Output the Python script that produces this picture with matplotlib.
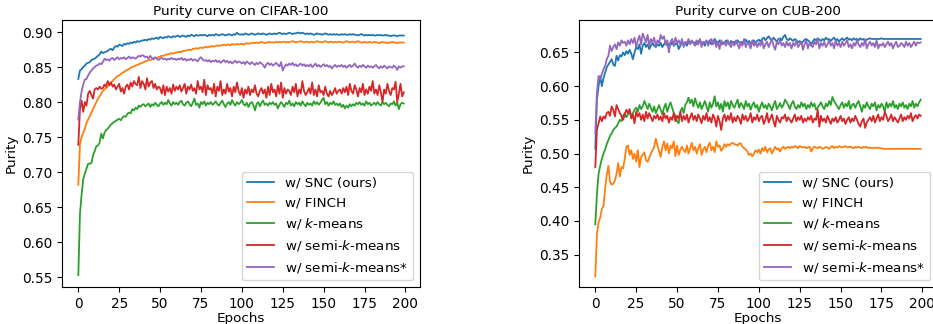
import numpy as np
import matplotlib
matplotlib.use('Agg')
import matplotlib.pyplot as plt

# purity values per epoch, in thousandths
epochs = list(range(200))

cifar_snc = [
    833, 845, 847, 850, 852, 855, 856, 857, 860, 861, 862, 864, 866, 868, 872, 870, 871, 872, 873, 875,
    876, 874, 878, 880, 879, 882, 881, 880, 883, 882, 884, 883, 885, 884, 886, 885, 887, 886, 887, 888,
    888, 889, 888, 890, 889, 891, 890, 891, 892, 890, 893, 892, 891, 893, 892, 894, 893, 892, 894, 893,
    894, 895, 893, 894, 895, 894, 893, 895, 894, 896, 895, 894, 896, 895, 895, 896, 895, 896, 895, 894,
    896, 895, 896, 895, 897, 896, 895, 896, 897, 896, 895, 896, 897, 896, 895, 897, 896, 899, 897, 896,
    897, 896, 898, 897, 896, 897, 898, 897, 896, 897, 898, 897, 897, 898, 897, 896, 897, 898, 897, 897,
    898, 897, 898, 899, 898, 897, 898, 897, 898, 899, 898, 897, 898, 898, 899, 899, 898, 899, 898, 897,
    898, 897, 898, 897, 896, 897, 898, 897, 897, 896, 897, 898, 897, 896, 897, 896, 897, 896, 897, 896,
    896, 897, 896, 897, 896, 896, 897, 896, 897, 896, 896, 895, 896, 897, 896, 895, 896, 895, 896, 895,
    896, 895, 895, 896, 895, 896, 895, 895, 896, 895, 895, 894, 895, 895, 895, 894, 895, 895, 895, 895]

cifar_finch = [
    682, 740, 750, 756, 762, 770, 775, 780, 785, 790, 795, 800, 805, 808, 812, 816, 818, 820, 822, 826,
    828, 830, 833, 835, 837, 838, 840, 842, 843, 845, 846, 847, 849, 850, 851, 852, 853, 854, 855, 856,
    857, 858, 859, 860, 860, 861, 862, 863, 863, 864, 865, 866, 866, 867, 868, 868, 869, 870, 869, 870,
    871, 871, 872, 871, 873, 873, 874, 874, 875, 874, 876, 876, 877, 876, 877, 878, 877, 878, 879, 878,
    879, 879, 880, 879, 880, 881, 880, 881, 881, 882, 881, 882, 882, 881, 883, 882, 882, 883, 882, 883,
    883, 882, 883, 884, 883, 884, 884, 885, 884, 885, 884, 885, 886, 885, 884, 885, 885, 886, 885, 885,
    885, 886, 885, 886, 885, 886, 886, 885, 886, 885, 886, 887, 886, 885, 886, 886, 887, 886, 885, 886,
    886, 885, 886, 886, 885, 886, 887, 886, 886, 885, 886, 887, 886, 885, 886, 886, 885, 886, 885, 886,
    886, 885, 885, 886, 887, 886, 885, 886, 886, 885, 886, 887, 886, 885, 885, 886, 885, 885, 886, 885,
    885, 886, 885, 885, 884, 885, 886, 885, 885, 884, 885, 885, 886, 885, 885, 884, 885, 885, 885, 885]

cifar_kmeans = [
    553, 640, 668, 690, 698, 705, 712, 712, 713, 724, 730, 737, 738, 742, 755, 748, 756, 760, 762, 765,
    768, 770, 772, 773, 775, 776, 774, 778, 780, 779, 783, 785, 784, 790, 788, 792, 790, 795, 793, 796,
    797, 794, 796, 798, 793, 797, 795, 799, 796, 794, 798, 800, 796, 799, 797, 803, 798, 795, 800, 797,
    799, 796, 800, 802, 797, 795, 799, 801, 797, 794, 799, 805, 796, 798, 792, 800, 797, 801, 795, 799,
    797, 800, 796, 798, 801, 797, 795, 799, 802, 797, 793, 798, 800, 796, 803, 798, 795, 800, 797, 799,
    803, 797, 795, 799, 793, 798, 800, 796, 788, 797, 800, 794, 799, 802, 796, 798, 795, 799, 797, 800,
    796, 798, 791, 796, 800, 797, 793, 799, 797, 802, 795, 798, 794, 800, 797, 799, 795, 801, 797, 794,
    799, 796, 798, 795, 801, 797, 800, 796, 799, 803, 806, 797, 800, 795, 799, 797, 801, 796, 798, 795,
    798, 793, 796, 791, 795, 792, 797, 794, 797, 795, 799, 797, 800, 796, 798, 795, 801, 797, 799, 795,
    797, 799, 796, 800, 797, 795, 800, 797, 799, 796, 794, 798, 797, 801, 795, 799, 790, 797, 799, 798]

cifar_semi = [
    739, 790, 802, 786, 800, 795, 812, 816, 810, 805, 818, 820, 818, 822, 819, 820, 825, 822, 830, 824,
    828, 822, 825, 818, 822, 826, 815, 820, 812, 822, 825, 818, 828, 822, 830, 826, 824, 836, 820, 830,
    826, 818, 834, 822, 828, 830, 820, 826, 818, 822, 820, 812, 824, 810, 822, 815, 820, 812, 825, 816,
    822, 818, 824, 815, 820, 826, 812, 822, 818, 825, 816, 820, 812, 830, 818, 822, 814, 832, 810, 824,
    818, 820, 812, 826, 808, 822, 816, 830, 810, 818, 812, 826, 815, 820, 808, 822, 814, 828, 816, 810,
    820, 806, 818, 812, 822, 810, 818, 814, 824, 812, 808, 816, 820, 812, 818, 806, 822, 810, 826, 814,
    818, 808, 824, 812, 828, 806, 820, 812, 818, 816, 810, 822, 814, 826, 808, 818, 812, 830, 816, 810,
    814, 820, 812, 828, 810, 818, 808, 824, 814, 816, 810, 822, 812, 808, 816, 810, 814, 820, 812, 816,
    818, 812, 820, 814, 822, 810, 826, 816, 812, 824, 818, 808, 820, 814, 826, 810, 818, 812, 822, 816,
    830, 812, 818, 810, 824, 814, 800, 818, 812, 826, 816, 810, 820, 818, 829, 800, 812, 826, 808, 814]

cifar_semi_star = [
    775, 800, 815, 825, 832, 833, 838, 842, 845, 848, 850, 852, 853, 855, 854, 857, 862, 860, 861, 859,
    862, 863, 860, 862, 864, 861, 863, 862, 864, 861, 863, 865, 862, 864, 863, 862, 864, 866, 865, 867,
    866, 864, 865, 862, 866, 863, 861, 864, 862, 860, 862, 863, 861, 862, 860, 862, 861, 863, 861, 862,
    860, 862, 861, 863, 860, 862, 859, 861, 860, 862, 859, 861, 860, 858, 862, 864, 861, 859, 860, 858,
    860, 857, 859, 858, 860, 857, 859, 856, 858, 860, 857, 859, 856, 858, 855, 857, 859, 856, 858, 857,
    855, 857, 854, 858, 856, 854, 857, 855, 853, 856, 854, 857, 855, 853, 849, 854, 856, 853, 855, 852,
    854, 856, 853, 851, 857, 845, 850, 854, 852, 855, 853, 856, 852, 854, 851, 853, 855, 852, 854, 851,
    853, 851, 854, 850, 852, 855, 851, 853, 850, 852, 854, 851, 853, 850, 852, 848, 851, 853, 850, 852,
    851, 853, 850, 852, 849, 851, 853, 850, 852, 855, 851, 849, 852, 850, 853, 851, 849, 852, 850, 851,
    849, 851, 853, 850, 848, 851, 849, 852, 850, 848, 851, 850, 849, 852, 850, 846, 851, 849, 851, 851]

cub_snc = [
    507, 580, 600, 615, 600, 612, 620, 628, 632, 636, 640, 632, 630, 645, 638, 646, 644, 650, 646, 652,
    648, 654, 648, 640, 650, 658, 655, 662, 648, 660, 664, 658, 662, 655, 660, 664, 660, 658, 662, 660,
    664, 658, 662, 666, 660, 663, 661, 665, 660, 662, 664, 655, 660, 666, 662, 664, 660, 666, 663, 667,
    664, 665, 662, 666, 668, 663, 665, 660, 667, 664, 668, 662, 665, 670, 666, 664, 668, 662, 665, 664,
    668, 665, 662, 667, 664, 666, 663, 668, 665, 662, 666, 664, 669, 665, 667, 663, 666, 668, 664, 667,
    669, 666, 670, 672, 668, 671, 674, 670, 668, 672, 669, 666, 670, 671, 668, 673, 676, 670, 668, 671,
    669, 667, 670, 668, 665, 667, 663, 666, 669, 670, 668, 666, 662, 666, 670, 668, 671, 669, 667, 670,
    668, 672, 669, 670, 667, 670, 672, 668, 670, 666, 669, 671, 668, 670, 672, 669, 670, 668, 671, 669,
    670, 668, 671, 669, 670, 667, 669, 670, 671, 670, 670, 670, 670, 670, 670, 671, 670, 670, 670, 670,
    670, 670, 670, 670, 670, 670, 670, 670, 670, 670, 670, 670, 670, 670, 670, 670, 670, 670, 670, 670]

cub_finch = [
    318, 380, 398, 405, 418, 422, 448, 468, 482, 458, 454, 455, 460, 470, 486, 466, 480, 478, 492, 510,
    512, 498, 505, 492, 500, 488, 505, 480, 495, 498, 502, 490, 488, 494, 500, 505, 510, 522, 512, 504,
    495, 510, 518, 505, 515, 500, 512, 508, 518, 496, 512, 498, 506, 510, 505, 502, 512, 500, 508, 516,
    505, 510, 500, 508, 514, 498, 506, 510, 502, 512, 516, 505, 510, 502, 518, 510, 512, 504, 508, 514,
    510, 514, 512, 515, 516, 514, 513, 512, 515, 515, 510, 508, 506, 503, 498, 500, 496, 500, 505, 502,
    506, 500, 508, 504, 510, 502, 506, 508, 500, 505, 510, 506, 508, 503, 508, 510, 507, 509, 510, 508,
    510, 509, 511, 510, 508, 511, 510, 509, 510, 508, 509, 510, 503, 508, 510, 509, 508, 510, 509, 507,
    508, 510, 509, 507, 510, 511, 508, 510, 509, 511, 510, 509, 510, 511, 509, 510, 510, 509, 508, 510,
    509, 510, 509, 508, 510, 509, 510, 508, 509, 508, 508, 509, 508, 509, 508, 508, 507, 507, 507, 507,
    507, 507, 507, 507, 507, 507, 507, 507, 507, 507, 507, 507, 507, 507, 507, 507, 507, 507, 507, 507]

cub_kmeans = [
    395, 440, 470, 482, 492, 500, 506, 514, 520, 526, 530, 535, 538, 540, 545, 550, 548, 556, 560, 554,
    558, 562, 556, 560, 565, 568, 562, 572, 566, 570, 578, 572, 566, 574, 568, 562, 570, 560, 566, 572,
    565, 558, 568, 574, 562, 570, 576, 568, 560, 556, 548, 545, 562, 568, 560, 572, 576, 583, 575, 580,
    570, 582, 574, 568, 576, 566, 572, 578, 570, 562, 576, 568, 574, 585, 570, 576, 566, 574, 562, 578,
    570, 576, 566, 578, 572, 568, 574, 580, 568, 575, 572, 566, 578, 570, 574, 565, 572, 576, 568, 572,
    562, 570, 576, 568, 572, 566, 574, 570, 564, 572, 578, 566, 570, 575, 568, 572, 580, 576, 572, 566,
    574, 578, 570, 566, 572, 568, 576, 570, 574, 566, 572, 568, 576, 570, 574, 565, 568, 572, 576, 570,
    566, 574, 570, 578, 572, 584, 578, 574, 570, 566, 572, 576, 568, 574, 570, 578, 566, 572, 574, 568,
    574, 578, 570, 562, 572, 568, 576, 570, 566, 574, 570, 576, 564, 572, 568, 574, 570, 562, 576, 568,
    574, 570, 578, 568, 572, 566, 574, 570, 576, 568, 572, 566, 574, 570, 578, 568, 574, 570, 576, 580]

cub_semi = [
    480, 535, 545, 555, 548, 555, 552, 560, 562, 556, 570, 565, 555, 572, 566, 560, 556, 550, 558, 565,
    560, 566, 552, 558, 545, 562, 555, 560, 550, 558, 548, 562, 552, 560, 554, 548, 556, 552, 558, 550,
    555, 548, 560, 552, 556, 546, 554, 550, 560, 548, 556, 552, 562, 548, 556, 550, 558, 546, 554, 560,
    550, 556, 548, 558, 552, 545, 556, 550, 560, 548, 554, 546, 558, 552, 540, 556, 548, 535, 552, 558,
    548, 556, 550, 560, 546, 554, 548, 556, 552, 544, 558, 550, 556, 548, 552, 560, 546, 554, 550, 558,
    548, 554, 556, 544, 550, 560, 546, 552, 558, 548, 540, 556, 550, 546, 554, 552, 558, 548, 554, 550,
    546, 552, 558, 548, 554, 550, 556, 546, 552, 548, 554, 550, 556, 546, 552, 550, 565, 540, 556, 548,
    552, 546, 556, 550, 544, 552, 548, 554, 546, 550, 556, 548, 552, 544, 550, 554, 546, 552, 548, 556,
    550, 544, 540, 548, 552, 538, 546, 550, 554, 548, 556, 546, 552, 558, 548, 554, 550, 562, 556, 548,
    552, 558, 548, 554, 550, 546, 552, 558, 548, 554, 550, 556, 552, 560, 548, 554, 557, 552, 558, 556]

cub_semi_star = [
    530, 590, 615, 610, 618, 625, 630, 640, 645, 660, 652, 658, 662, 655, 665, 660, 668, 664, 666, 660,
    668, 662, 670, 664, 672, 658, 668, 675, 662, 678, 672, 665, 676, 660, 670, 665, 672, 660, 668, 664,
    676, 670, 674, 662, 668, 650, 666, 670, 660, 672, 664, 668, 662, 670, 658, 666, 664, 670, 662, 668,
    664, 660, 668, 662, 670, 658, 666, 664, 668, 660, 666, 670, 662, 668, 658, 666, 655, 668, 662, 664,
    660, 668, 662, 658, 666, 660, 668, 662, 656, 666, 660, 670, 658, 664, 662, 656, 668, 660, 665, 658,
    664, 660, 668, 656, 662, 666, 658, 664, 670, 660, 654, 666, 662, 668, 660, 664, 658, 666, 660, 664,
    656, 664, 660, 668, 658, 662, 666, 654, 662, 668, 656, 664, 660, 658, 666, 662, 670, 656, 664, 660,
    666, 658, 662, 668, 660, 664, 656, 668, 660, 664, 658, 666, 660, 664, 668, 658, 662, 656, 664, 660,
    668, 662, 658, 664, 660, 670, 656, 662, 666, 660, 664, 658, 668, 656, 662, 660, 664, 658, 662, 666,
    660, 664, 656, 662, 666, 658, 660, 664, 662, 658, 666, 660, 664, 658, 662, 666, 660, 665, 664, 665]

labels = ['w/ SNC (ours)', 'w/ FINCH', 'w/ $k$-means', 'w/ semi-$k$-means', 'w/ semi-$k$-means*']
colors = ['#1f77b4', '#ff7f0e', '#2ca02c', '#d62728', '#9467bd']


def plot_purity(ax, series, title, ylim):
    '''Draws the five purity curves of one dataset on ax.'''
    for vals, lab, col in zip(series, labels, colors):
        ax.plot(epochs, np.array(vals) / 1000.0, color=col, lw=1.3, label=lab)
    ax.set_title(title, fontsize=9.7, pad=4)
    ax.set_xlabel('Epochs', fontsize=9.7, labelpad=1)
    ax.set_ylabel('Purity', fontsize=9.7, labelpad=3)
    ax.set_xticks([0, 25, 50, 75, 100, 125, 150, 175, 200])
    ax.set_xlim(-9.95, 208.95)
    ax.set_ylim(*ylim)
    ax.tick_params(labelsize=9.8)
    ax.legend(loc='lower right', fontsize=9.7)


fig = plt.figure(figsize=(9.33, 3.24), dpi=100)
ax1 = fig.add_axes([0.0665, 0.114, 0.3837, 0.824])
ax2 = fig.add_axes([0.6206, 0.114, 0.3837, 0.824])

plot_purity(ax1, [cifar_snc, cifar_finch, cifar_kmeans, cifar_semi, cifar_semi_star],
            'Purity curve on CIFAR-100', (0.536, 0.917))
plot_purity(ax2, [cub_snc, cub_finch, cub_kmeans, cub_semi, cub_semi_star],
            'Purity curve on CUB-200', (0.302, 0.698))

fig.savefig('out.png', dpi=100)
